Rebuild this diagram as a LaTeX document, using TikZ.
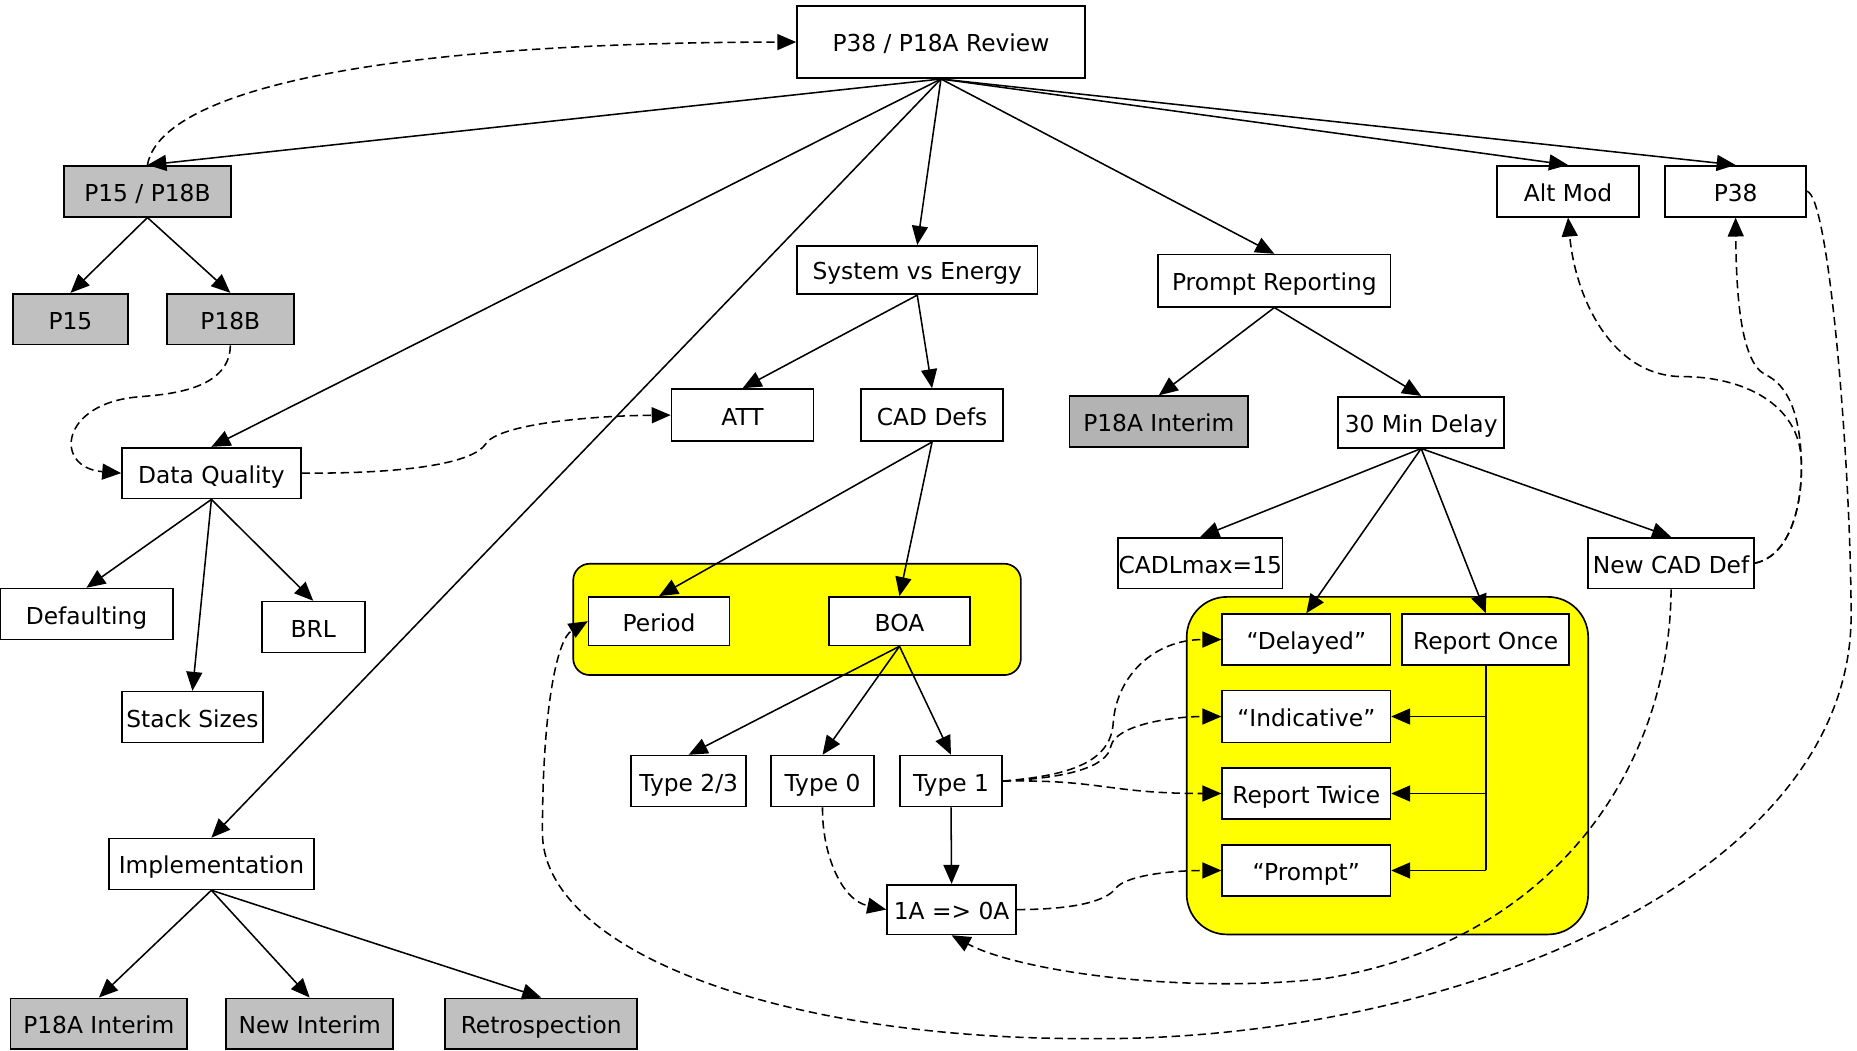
\documentclass[tikz,border=0pt]{standalone}
\usepackage{fontspec}
\setmainfont{DejaVu Sans}
\usetikzlibrary{arrows.meta}
\definecolor{grayA}{HTML}{C0C0C0}
\definecolor{grayB}{HTML}{B3B3B3}
\definecolor{yel}{HTML}{FFFF00}
\tikzset{
  box/.style={draw, line width=1.4pt, fill=white, inner sep=0pt,
    font=\fontsize{19.7}{22}\selectfont, text height=17.5pt, text depth=0.7pt},
  graybox/.style={box, fill=grayA},
  darkbox/.style={box, fill=grayB},
  group/.style={draw, line width=1.4pt, fill=yel},
  arr/.style={line width=1.3pt, -{Triangle[length=16pt,width=13.5pt]}},
  darr/.style={arr, dash pattern=on 7pt off 4pt},
  plainline/.style={line width=1.3pt},
}
\begin{document}
\begin{tikzpicture}[x=1pt,y=-1pt]
\useasboundingbox (0,0) rectangle (1568,887);
% groups
\draw[group, rounded corners=14pt] (484,476) rectangle (862,570);
\draw[group, rounded corners=34pt] (1002,504) rectangle (1341,789);
% nodes
\node[box, minimum width=243pt, minimum height=61pt] (rev) at (794.5,35.5) {P38 / P18A Review};
\node[graybox, minimum width=141pt, minimum height=43pt] (p15b) at (124.5,161.5) {P15 / P18B};
\node[graybox, minimum width=97pt, minimum height=43pt] (p15) at (59.5,269.5) {P15};
\node[graybox, minimum width=107pt, minimum height=43pt] (p18b) at (194.5,269.5) {P18B};
\node[box, minimum width=151pt, minimum height=43pt] (dq) at (178.5,399.5) {Data Quality};
\node[box, minimum width=146pt, minimum height=43pt] (def) at (73,518.5) {Defaulting};
\node[box, minimum width=87pt, minimum height=43pt] (brl) at (264.5,529.5) {BRL};
\node[box, minimum width=119pt, minimum height=43pt] (stack) at (162.5,605.5) {Stack Sizes};
\node[box, minimum width=173pt, minimum height=43pt] (impl) at (178.5,729.5) {Implementation};
\node[graybox, minimum width=149pt, minimum height=43pt] (p18aib) at (83.5,864.5) {P18A Interim};
\node[graybox, minimum width=141pt, minimum height=43pt] (newi) at (261.5,864.5) {New Interim};
\node[graybox, minimum width=162pt, minimum height=43pt] (retro) at (457,864.5) {Retrospection};
\node[box, minimum width=203pt, minimum height=41pt] (sve) at (774.5,228) {System vs Energy};
\node[box, minimum width=120pt, minimum height=44pt] (att) at (627,350.5) {ATT};
\node[box, minimum width=120pt, minimum height=44pt] (cad) at (787,350.5) {CAD Defs};
\node[box, minimum width=119pt, minimum height=41pt] (period) at (556.5,524.5) {Period};
\node[box, minimum width=119pt, minimum height=41pt] (boa) at (759.5,524.5) {BOA};
\node[box, minimum width=97pt, minimum height=43pt] (t23) at (581.5,659.5) {Type 2/3};
\node[box, minimum width=87pt, minimum height=43pt] (t0) at (694.5,659.5) {Type 0};
\node[box, minimum width=86pt, minimum height=43pt] (t1) at (803,659.5) {Type 1};
\node[box, minimum width=109pt, minimum height=42pt] (oa) at (803.5,768) {1A => 0A};
\node[box, minimum width=196pt, minimum height=44pt] (pr) at (1076,237) {Prompt Reporting};
\node[darkbox, minimum width=151pt, minimum height=43pt] (p18ait) at (978.5,356) {P18A Interim};
\node[box, minimum width=140pt, minimum height=43pt] (min30) at (1200,356.5) {30 Min Delay};
\node[box, minimum width=139pt, minimum height=43pt] (cadl) at (1013.5,475.5) {CADLmax=15};
\node[box, minimum width=140pt, minimum height=43pt] (ncd) at (1411,475.5) {New CAD Def};
\node[box, minimum width=120pt, minimum height=43pt] (altmod) at (1324,161.5) {Alt Mod};
\node[box, minimum width=119pt, minimum height=43pt] (p38) at (1465.5,161.5) {P38};
\node[box, minimum width=142pt, minimum height=43pt] (del) at (1103,540) {“Delayed”};
\node[box, minimum width=141pt, minimum height=43pt] (ronce) at (1254.5,540) {Report Once};
\node[box, minimum width=142pt, minimum height=44pt] (ind) at (1103,605) {“Indicative”};
\node[box, minimum width=142pt, minimum height=43pt] (rtw) at (1103,670) {Report Twice};
\node[box, minimum width=142pt, minimum height=43pt] (prm) at (1103,735) {“Prompt”};
% solid edges
\foreach \t in {p15b,dq,impl,sve,pr,altmod,p38} \draw[arr] (rev.south) -- (\t.north);
\foreach \t in {p15,p18b} \draw[arr] (p15b.south) -- (\t.north);
\foreach \t in {def,stack,brl} \draw[arr] (dq.south) -- (\t.north);
\foreach \t in {p18aib,newi,retro} \draw[arr] (impl.south) -- (\t.north);
\foreach \t in {att,cad} \draw[arr] (sve.south) -- (\t.north);
\foreach \t in {period,boa} \draw[arr] (cad.south) -- (\t.north);
\foreach \t in {t23,t0,t1} \draw[arr] (boa.south) -- (\t.north);
\draw[arr] (t1.south) -- (oa.north);
\foreach \t in {p18ait,min30} \draw[arr] (pr.south) -- (\t.north);
\foreach \t in {cadl,del,ronce,ncd} \draw[arr] (min30.south) -- (\t.north);
\draw[plainline] (ronce.south) -- (ronce.south |- prm.east);
\foreach \t in {ind,rtw,prm} \draw[arr] (ronce.south |- \t.east) -- (\t.east);
% dashed edges
\draw[darr] (p15b.north) .. controls (135,80) and (300,36) .. (rev.west);
\draw[darr] (p18b.south) .. controls (194,330) and (140,333) .. (118,335)
  .. controls (50,340) and (45,395) .. (dq.west);
\draw[darr] (dq.east) .. controls (350,400) and (400,390) .. (410,375)
  .. controls (420,358) and (500,351) .. (att.west);
\draw[darr] (t1.east) .. controls (900,655) and (938,645) .. (940,610)
  .. controls (943,570) and (975,540) .. (del.west);
\draw[darr] (t1.east) .. controls (900,657) and (935,648) .. (938,630)
  .. controls (942,612) and (990,605) .. (ind.west);
\draw[darr] (t1.east) .. controls (930,658) and (935,670) .. (rtw.west);
\draw[darr] (t0.south) .. controls (694,720) and (710,760) .. (oa.west);
\draw[darr] (oa.east) .. controls (910,768) and (935,760) .. (942,750)
  .. controls (952,738) and (995,735) .. (prm.west);
\draw[darr] (ncd.south) .. controls (1410,650) and (1310,795) .. (1120,826)
  .. controls (1000,840) and (860,820) .. (oa.south);
\draw[darr] (ncd.east) .. controls (1510,470) and (1522,430) .. (1521,390)
  .. controls (1520,340) and (1470,318) .. (1421,318)
  .. controls (1360,318) and (1330,250) .. (altmod.south);
\draw[darr] (ncd.east) .. controls (1510,470) and (1522,430) .. (1521,390)
  .. controls (1520,350) and (1510,325) .. (1490,316)
  .. controls (1470,305) and (1466,250) .. (p38.south);
\draw[darr] (p38.east) .. controls (1545,165) and (1563,400) .. (1563,520)
  .. controls (1563,740) and (1230,880) .. (917,877)
  .. controls (650,877) and (458,800) .. (458,703)
  .. controls (458,600) and (470,540) .. (period.west);
\end{tikzpicture}
\end{document}
